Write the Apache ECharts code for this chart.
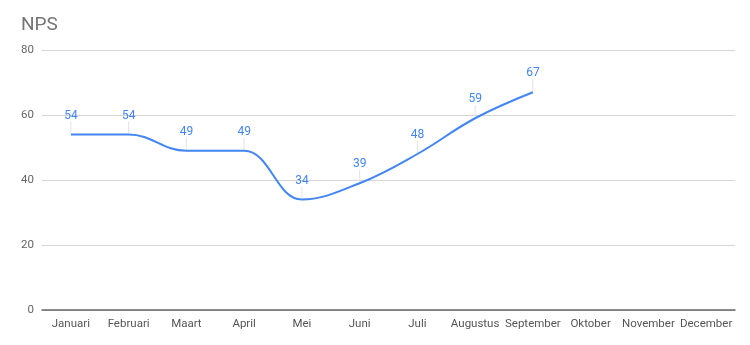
<!DOCTYPE html>
<html><head><meta charset="utf-8">
<script src="https://cdn.jsdelivr.net/npm/echarts@6/dist/echarts.min.js"></script>
<style>html,body{margin:0;padding:0;background:#fff}#c{width:750px;height:345px}</style>
</head><body><div id="c"></div>
<script>
const categories = ['Januari','Februari','Maart','April','Mei','Juni','Juli','Augustus','September','Oktober','November','December'];
const npsValues = [54, 54, 49, 49, 34, 39, 48, 59, 67, null, null, null];
const yTicks = [0, 20, 40, 60, 80];

const chart = echarts.init(document.getElementById('c'), null, {renderer: 'canvas'});
chart.setOption({
  animation: false,
  title: {text: 'NPS', left: 16, top: 11, textStyle: {fontFamily: 'Roboto', fontSize: 19, fontWeight: 'normal', color: '#757575'}},
  grid: {left: 42, right: 15, top: 50, bottom: 35},
  xAxis: {
    type: 'category', data: categories, boundaryGap: true,
    axisLine: {lineStyle: {color: '#666', width: 1.5}},
    axisTick: {show: false},
    axisLabel: {fontFamily: 'Roboto', fontSize: 11.5, color: '#555', margin: 8, interval: 0}
  },
  yAxis: {
    type: 'value', min: yTicks[0], max: yTicks[yTicks.length-1], interval: 20,
    axisLine: {show: false}, axisTick: {show: false},
    axisLabel: {fontFamily: 'Roboto', fontSize: 11.5, color: '#666', margin: 8},
    splitLine: {lineStyle: {color: '#d6d6d6'}}
  },
  series: [{
    type: 'custom', silent: true, z: 1,
    data: npsValues.map((v, i) => [i, v]).filter(d => d[1] != null),
    renderItem: function (params, api) {
      const p = api.coord([api.value(0), api.value(1)]);
      return {type: 'line', shape: {x1: p[0], y1: p[1] - 1, x2: p[0], y2: p[1] - 13},
              style: {stroke: '#e3e3e3', lineWidth: 1}};
    }
  }, {
    type: 'line', data: npsValues, smooth: 0.4, showSymbol: true, symbol: 'circle', symbolSize: 0, z: 3,
    itemStyle: {color: '#4285f4'},
    lineStyle: {color: '#4285f4', width: 2},
    label: {show: true, position: 'top', distance: 13, fontFamily: 'Roboto', fontSize: 12, color: '#4285f4'}
  }]
});
</script></body></html>
